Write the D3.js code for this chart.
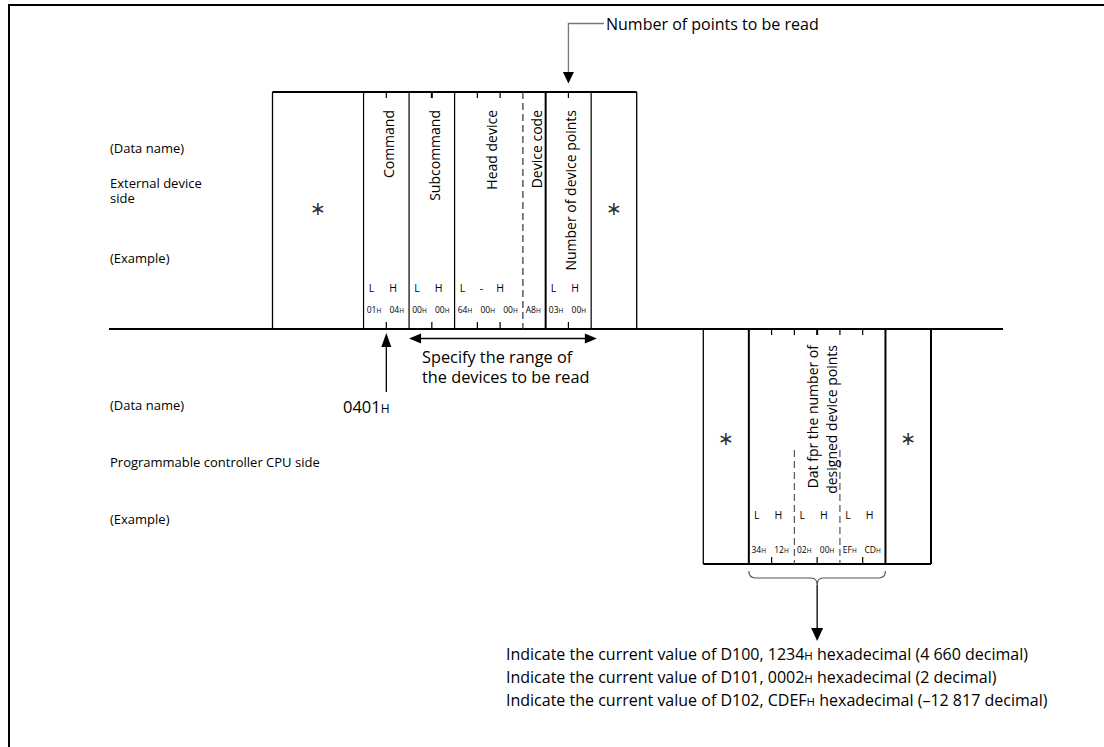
<!DOCTYPE html>
<html>
<head>
<meta charset="utf-8">
<script src="https://cdn.jsdelivr.net/npm/d3@7"></script>
<style>
    body { margin: 0; background: #fff; }
    svg { display: block; font-family: "Open Sans", sans-serif; }
</style>
</head>
<body>
<svg id="diagram"></svg>
<script>
// Request message (external device -> CPU)
var fieldNames = ['Command', 'Subcommand', 'Head device', 'Device code', 'Number of device points'];
var fieldBytes = [2, 2, 3, 1, 2];
var fieldOrder = ['L H', 'L H', 'L - H', '', 'L H'];
var requestBytes = ['01', '04', '00', '00', '64', '00', '00', 'A8', '03', '00'];
var commandCode = '0401';

// Response message (CPU -> external device)
var responseName = ['Dat fpr the number of', 'designed device points'];
var responseBytes = ['34', '12', '02', '00', 'EF', 'CD'];
var responseOrder = ['L H', 'L H', 'L H'];

// side captions
var sideTop = [['(Data name)'], ['External device', 'side'], ['(Example)']];
var sideBottom = [['(Data name)'], ['Programmable controller CPU side'], ['(Example)']];

// notes under the response
var noteDevices = ['D100', 'D101', 'D102'];
var noteHex = ['1234', '0002', 'CDEF'];
var noteDecimal = ['4 660', '2', '\u201312 817'];

var pointsCaption = 'Number of points to be read';
var rangeCaption = ['Specify the range of', 'the devices to be read'];

var svgWidth = 1104,
    svgHeight = 747;

var svg = d3.select('#diagram')
    .attr('width', svgWidth)
    .attr('height', svgHeight);

// byte scales: one unit = one byte
var xReq = d3.scaleLinear().domain([-4, 12]).range([272.5, 636.7]);
var xRes = d3.scaleLinear().domain([-2, 8]).range([703.3, 931]);

var yReqTop = 92,
    yLine = 329,
    yResBottom = 564;

function addLine(g, x1, y1, x2, y2, w, color) {
    return g.append('line')
        .attr('x1', x1).attr('y1', y1)
        .attr('x2', x2).attr('y2', y2)
        .attr('stroke', color || '#000')
        .attr('stroke-width', w);
}

// text with a small "H" suffix
function hexText(sel, value, small) {
    sel.append('tspan').text(value);
    sel.append('tspan').attr('font-size', small).text('H');
    return sel;
}

function stars(g, scale, cols, y) {
    g.selectAll('.star')
        .data(cols)
        .enter()
        .append('text')
        .attr('class', 'star')
        .attr('x', function (d) { return scale(d); })
        .attr('y', y)
        .attr('dy', '0.35em')
        .attr('text-anchor', 'middle')
        .attr('font-family', 'DejaVu Sans')
        .attr('font-size', 19)
        .attr('fill', '#333')
        .text('\u2217');
}

// outer frame (left and top edges)
svg.append('path')
    .attr('d', 'M9,' + svgHeight + 'V5H' + svgWidth)
    .attr('fill', 'none')
    .attr('stroke', '#000')
    .attr('stroke-width', 2);

// main time line
addLine(svg, 109, yLine, 1003, yLine, 2);

// ---------- request frame ----------
var req = svg.append('g');
var starts = d3.cumsum([0].concat(fieldBytes));   // 0,2,4,7,8,10

addLine(req, xReq(-4), yReqTop, xReq(12), yReqTop, 2);
addLine(req, xReq(-4), yReqTop, xReq(-4), yLine, 1.3);
addLine(req, xReq(12), yReqTop, xReq(12), yLine, 1.3);
addLine(req, xReq(10), yReqTop, xReq(10), yLine, 1.2);

fieldNames.forEach(function (name, i) {
    var s = starts[i], e = starts[i + 1];
    var edge = addLine(req, xReq(s), yReqTop, xReq(s), yLine, name === 'Number of device points' ? 2 : 1.2);
    if (name === 'Device code') {
        edge.attr('stroke', '#333').attr('stroke-dasharray', '7,4');
    }
    // ticks between bytes
    d3.range(s + 1, e).forEach(function (b) {
        addLine(req, xReq(b), yReqTop, xReq(b), yReqTop + 6, b === 3 ? 2 : 1.2);
        addLine(req, xReq(b), yLine - 7, xReq(b), yLine, 1.2);
    });
    // vertical field name
    var cx = xReq((s + e) / 2) + 8;
    req.append('text')
        .attr('transform', 'translate(' + cx + ',110) rotate(-90)')
        .attr('text-anchor', 'end')
        .attr('font-size', 14)
        .text(name);
    // byte order letters
    var letters = fieldOrder[i] ? fieldOrder[i].split(' ') : [];
    var span = 0.95 + (fieldBytes[i] - 2) * 0.7;
    letters.forEach(function (t, k) {
        req.append('text')
            .attr('x', xReq(s + 0.35 + k * span / (letters.length - 1)))
            .attr('y', 292)
            .attr('text-anchor', 'middle')
            .attr('font-size', 10.5)
            .text(t);
    });
});

req.selectAll('.byte')
    .data(requestBytes)
    .enter()
    .append('text')
    .attr('class', 'byte')
    .attr('x', function (d, i) { return xReq(i + 0.5) - 1; })
    .attr('y', 313)
    .attr('text-anchor', 'middle')
    .attr('font-size', 8.5)
    .each(function (d) { hexText(d3.select(this), d, 6.5); });

stars(req, xReq, [-2, 11], 208);

// "Number of points to be read" callout
var xPts = xReq(9);
svg.append('path')
    .attr('d', 'M604,23.5H' + xPts + 'V73')
    .attr('fill', 'none')
    .attr('stroke', '#777')
    .attr('stroke-width', 1.3);
svg.append('path')
    .attr('d', 'M' + (xPts - 5.5) + ',72L' + (xPts + 5.5) + ',72L' + xPts + ',83.5Z')
    .attr('fill', '#000');
svg.append('text')
    .attr('x', 606)
    .attr('y', 30)
    .attr('font-size', 16)
    .text(pointsCaption);

// command arrow
var xCmd = xReq(1);
addLine(svg, xCmd, 345, xCmd, 392, 1.3);
svg.append('path')
    .attr('d', 'M' + (xCmd - 5) + ',347L' + (xCmd + 5) + ',347L' + xCmd + ',333Z')
    .attr('fill', '#000');
hexText(svg.append('text').attr('x', 343).attr('y', 413).attr('font-size', 16.5), commandCode, 12);

// range double arrow
var ra = xReq(2), rb = xReq(10.25), ry = 338.5;
addLine(svg, ra + 10, ry, rb - 10, ry, 1.3);
svg.append('path')
    .attr('d', 'M' + ra + ',' + ry + 'L' + (ra + 12) + ',' + (ry - 5) + 'L' + (ra + 12) + ',' + (ry + 5) + 'Z' +
        'M' + rb + ',' + ry + 'L' + (rb - 12) + ',' + (ry - 5) + 'L' + (rb - 12) + ',' + (ry + 5) + 'Z')
    .attr('fill', '#000');
svg.append('text')
    .attr('x', ra + 13)
    .attr('font-size', 16.3)
    .selectAll('tspan')
    .data(rangeCaption)
    .enter()
    .append('tspan')
    .attr('x', ra + 13)
    .attr('y', function (d, i) { return 363 + i * 20; })
    .text(function (d) { return d; });

// ---------- response frame ----------
var res = svg.append('g');
addLine(res, xRes(-2), yLine, xRes(-2), yResBottom, 1.3);
addLine(res, xRes(0), yLine, xRes(0), yResBottom, 2);
addLine(res, xRes(6), yLine, xRes(6), yResBottom, 2);
addLine(res, xRes(8), yLine, xRes(8), yResBottom, 2);
addLine(res, xRes(-2), yResBottom, xRes(8), yResBottom, 2);

d3.range(1, 6).forEach(function (b) {
    addLine(res, xRes(b), yLine, xRes(b), yLine + 6, b === 3 ? 2 : 1.2);
    if (b % 2 === 0) {
        addLine(res, xRes(b), 450, xRes(b), yResBottom, 1.2, '#555').attr('stroke-dasharray', '7,4');
    } else {
        addLine(res, xRes(b), yResBottom - 7, xRes(b), yResBottom, 1.2);
    }
});

res.append('text')
    .attr('font-size', 14)
    .attr('text-anchor', 'end')
    .selectAll('tspan')
    .data(responseName)
    .enter()
    .append('tspan')
    .attr('x', -345)
    .attr('y', function (d, i) { return xRes(3) + 1 + i * 18.5; })
    .text(function (d) { return d; });
res.select('text').attr('transform', 'rotate(-90)');

responseOrder.forEach(function (o, w) {
    o.split(' ').forEach(function (t, k) {
        res.append('text')
            .attr('x', xRes(w * 2 + 0.35 + k * 0.95))
            .attr('y', 519)
            .attr('text-anchor', 'middle')
            .attr('font-size', 10.5)
            .text(t);
    });
});

res.selectAll('.byte')
    .data(responseBytes)
    .enter()
    .append('text')
    .attr('class', 'byte')
    .attr('x', function (d, i) { return xRes(i + 0.5) - 1.5; })
    .attr('y', 553)
    .attr('text-anchor', 'middle')
    .attr('font-size', 8.5)
    .each(function (d) { hexText(d3.select(this), d, 6.5); });

stars(res, xRes, [-1, 7], 438);

// brace + arrow to notes
var b0 = xRes(0), b1 = xRes(6), bc = xRes(3);
svg.append('path')
    .attr('d', 'M' + b0 + ',571Q' + b0 + ',578 ' + (b0 + 7) + ',578L' + (bc - 6) + ',578Q' + bc + ',578 ' + bc + ',585' +
        'Q' + bc + ',578 ' + (bc + 6) + ',578L' + (b1 - 7) + ',578Q' + b1 + ',578 ' + b1 + ',571')
    .attr('fill', 'none')
    .attr('stroke', '#555')
    .attr('stroke-width', 1.2);
addLine(svg, bc, 585, bc, 630, 1.3);
svg.append('path')
    .attr('d', 'M' + (bc - 6) + ',628L' + (bc + 6) + ',628L' + bc + ',641Z')
    .attr('fill', '#000');

// ---------- captions ----------
function sideCaptions(list, baselines) {
    list.forEach(function (lines, i) {
        lines.forEach(function (t, k) {
            svg.append('text')
                .attr('x', 110)
                .attr('y', baselines[i] + k * 15)
                .attr('font-size', 13)
                .text(t);
        });
    });
}
sideCaptions(sideTop, [152.5, 187.5, 262.5]);
sideCaptions(sideBottom, [409.5, 466.5, 523.5]);

noteDevices.forEach(function (dev, i) {
    var t = svg.append('text')
        .attr('x', 506)
        .attr('y', 660 + i * 23)
        .attr('font-size', 16);
    t.append('tspan').text('Indicate the current value of ' + dev + ', ' + noteHex[i]);
    t.append('tspan').attr('font-size', 11.5).text('H');
    t.append('tspan').text(' hexadecimal (' + noteDecimal[i] + ' decimal)');
});
</script>
</body>
</html>
